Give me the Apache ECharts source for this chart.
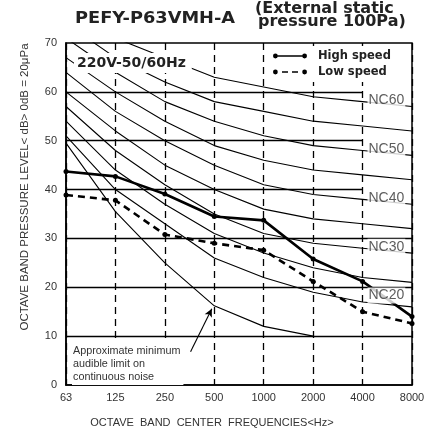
<!DOCTYPE html>
<html><head><meta charset="utf-8">
<script src="https://cdn.jsdelivr.net/npm/echarts@6/dist/echarts.min.js"></script>
<style>html,body{margin:0;padding:0;background:#fff}#c{width:427px;height:434px}</style>
</head><body><div id="c"></div>
<script>
const categories = ['63','125','250','500','1000','2000','4000','8000'];
const highSpeed = [43.7, 42.7, 39.1, 34.5, 33.7, 25.8, 21.2, 14.0];
const lowSpeed  = [38.9, 37.8, 30.8, 29.0, 27.6, 21.2, 15.0, 12.6];
const nc20 = [51, 40, 33, 26, 22, 19, 17, 16];
const nc25 = [54, 44, 37, 31, 27, 24, 22, 21];
const nc30 = [57, 48, 41, 35, 31, 29, 28, 27];
const nc35 = [60, 52, 45, 40, 36, 34, 33, 32];
const nc40 = [64, 56, 50, 45, 41, 39, 38, 37];
const nc45 = [67, 60, 54, 49, 46, 44, 43, 42];
const nc50 = [71, 64, 58, 54, 51, 49, 48, 47];
const nc55 = [74, 67, 62, 58, 56, 54, 53, 52];
const nc60 = [77, 71, 67, 63, 61, 59, 58, 57];
const audibleLimit = [49.5, 35.5, 25, 16.2, 12, 10];
const ncLabels = ['NC60', 'NC50', 'NC40', 'NC30', 'NC20'];
const gridLevels = [10, 20, 30, 40, 50, 60];

const chart = echarts.init(document.getElementById('c'), null, {renderer: 'canvas'});
const toXY = arr => arr.map((v, i) => [i, v]);
const ncCurves = [nc20, nc25, nc30, nc35, nc40, nc45, nc50, nc55, nc60];
const ncSeries = ncCurves.map((d, k) => ({
  type: 'line', name: 'nc' + k, data: toXY(d), symbol: 'none', silent: true,
  lineStyle: {color: '#000', width: 1.1}, z: 2, clip: true
}));

const highIcon = 'path://M2,2.3 L32,2.3 L32,3.7 L2,3.7 Z M0,3 A2.4,2.4 0 1 1 4.8,3 A2.4,2.4 0 1 1 0,3 Z M29.2,3 A2.4,2.4 0 1 1 34,3 A2.4,2.4 0 1 1 29.2,3 Z';
const lowIcon = 'path://M9,2.3 L15,2.3 L15,3.7 L9,3.7 Z M19,2.3 L25,2.3 L25,3.7 L19,3.7 Z M0,3 A2.4,2.4 0 1 1 4.8,3 A2.4,2.4 0 1 1 0,3 Z M29.2,3 A2.4,2.4 0 1 1 34,3 A2.4,2.4 0 1 1 29.2,3 Z';

const boldFont = {fontFamily: 'DejaVu Sans', fontWeight: 'bold'};

const option = {
  animation: false,
  backgroundColor: '#fff',
  grid: {left: 66, top: 43, right: 15, bottom: 49, show: true, borderColor: '#000', borderWidth: 1.5,
         backgroundColor: 'transparent', containLabel: false, outerBoundsMode: 'none'},
  legend: {
    left: 268, top: 46, orient: 'vertical', backgroundColor: '#fff', padding: [4, 14, 4, 5],
    itemGap: 4, itemWidth: 34, itemHeight: 6,
    textStyle: {fontFamily: 'DejaVu Sans', fontWeight: 'bold', fontSize: 11.5, color: '#222', padding: [0, 0, 0, 6]},
    data: [{name: 'High speed', icon: highIcon}, {name: 'Low speed', icon: lowIcon}]
  },
  xAxis: {
    type: 'value', min: 0, max: 7, interval: 1,
    axisLine: {show: true, lineStyle: {color: '#000', width: 1.5}},
    axisTick: {show: false},
    axisLabel: {formatter: v => categories[v], fontFamily: 'Liberation Sans', fontSize: 11, color: '#333', margin: 7},
    splitLine: {show: true, lineStyle: {color: '#000', width: 1.3, type: [7, 5]}}
  },
  yAxis: {
    type: 'value', min: 0, max: 70, interval: 10,
    axisLine: {show: true, lineStyle: {color: '#000', width: 1.5}},
    axisTick: {show: false},
    axisLabel: {fontFamily: 'Liberation Sans', fontSize: 11, color: '#333', margin: 9},
    splitLine: {show: false}
  },
  series: [
    ...ncSeries,
    {
      type: 'line', name: 'audible', data: toXY(audibleLimit), symbol: 'none', silent: true,
      lineStyle: {color: '#000', width: 1.1}, z: 2,
      markLine: {
        silent: true, symbol: ['none', 'arrow'], symbolSize: [6, 8], animation: false,
        label: {show: false}, lineStyle: {color: '#000', width: 1.1, type: 'solid'},
        data: [[{coord: [2.52, 6.8]}, {coord: [2.95, 15.6]}]]
      }
    },
    {
      type: 'line', name: 'gridlines', data: [], symbol: 'none', silent: true,
      markLine: {
        silent: true, symbol: ['none', 'none'], animation: false, label: {show: false},
        lineStyle: {color: '#000', width: 1.3, type: 'solid'},
        data: gridLevels.map(v => [{coord: [0, v]}, {coord: [v >= 40 ? 6 : 7, v]}])
      }
    },
    {
      type: 'line', name: 'High speed', data: toXY(highSpeed), symbol: 'circle', symbolSize: 5,
      itemStyle: {color: '#000'}, lineStyle: {color: '#000', width: 2.6}, z: 5
    },
    {
      type: 'line', name: 'Low speed', data: toXY(lowSpeed), symbol: 'circle', symbolSize: 5,
      itemStyle: {color: '#000'}, lineStyle: {color: '#000', width: 2.6, type: [7, 5]}, z: 5
    },
    {
      type: 'scatter', name: 'nclabels', silent: true, symbolSize: 0, z: 6,
      data: ncLabels.map(n => ({name: n, value: [6.1, parseInt(n.slice(2)) - 1.7]})),
      label: {
        show: true, position: 'right', distance: 0, formatter: p => p.name,
        fontFamily: 'Liberation Sans', fontSize: 14, color: '#333', backgroundColor: '#fff', padding: [1, 1]
      }
    }
  ],
  graphic: [
    {type: 'text', z: 100, x: 75, y: 19, scaleX: 1.11,
     style: Object.assign({text: 'PEFY-P63VMH-A', fontSize: 16, fill: '#222', verticalAlign: 'middle'}, boldFont)},
    {type: 'text', z: 100, x: 255, y: 9,
     style: Object.assign({text: '(External static', fontSize: 16, fill: '#222', verticalAlign: 'middle'}, boldFont)},
    {type: 'text', z: 100, x: 258, y: 22,
     style: Object.assign({text: 'pressure 100Pa)', fontSize: 16, fill: '#222', verticalAlign: 'middle'}, boldFont)},
    {type: 'text', z: 100, x: 74, y: 63,
     style: Object.assign({text: '220V-50/60Hz', fontSize: 14, fill: '#222', verticalAlign: 'middle',
       backgroundColor: '#fff', padding: [3, 6, 3, 3]}, boldFont)},
    {type: 'text', z: 100, x: 72, y: 343,
     style: {text: 'Approximate minimum\naudible limit on\ncontinuous noise', fontSize: 10.8, fontFamily: 'Liberation Sans',
       fill: '#333', lineHeight: 13, backgroundColor: '#fff', padding: [2, 3, 1, 1]}},
    {type: 'text', z: 100, x: 25, y: 187, rotation: Math.PI / 2,
     style: {text: 'OCTAVE BAND PRESSURE LEVEL< dB> 0dB = 20\u03bcPa', fontSize: 11.5, fontFamily: 'Liberation Sans',
       fill: '#333', align: 'center', verticalAlign: 'middle'}},
    {type: 'text', z: 100, x: 212, y: 423,
     style: {text: 'OCTAVE  BAND  CENTER  FREQUENCIES<Hz>', fontSize: 11, fontFamily: 'Liberation Sans',
       fill: '#333', align: 'center', verticalAlign: 'middle'}}
  ]
};
chart.setOption(option);
</script></body></html>
